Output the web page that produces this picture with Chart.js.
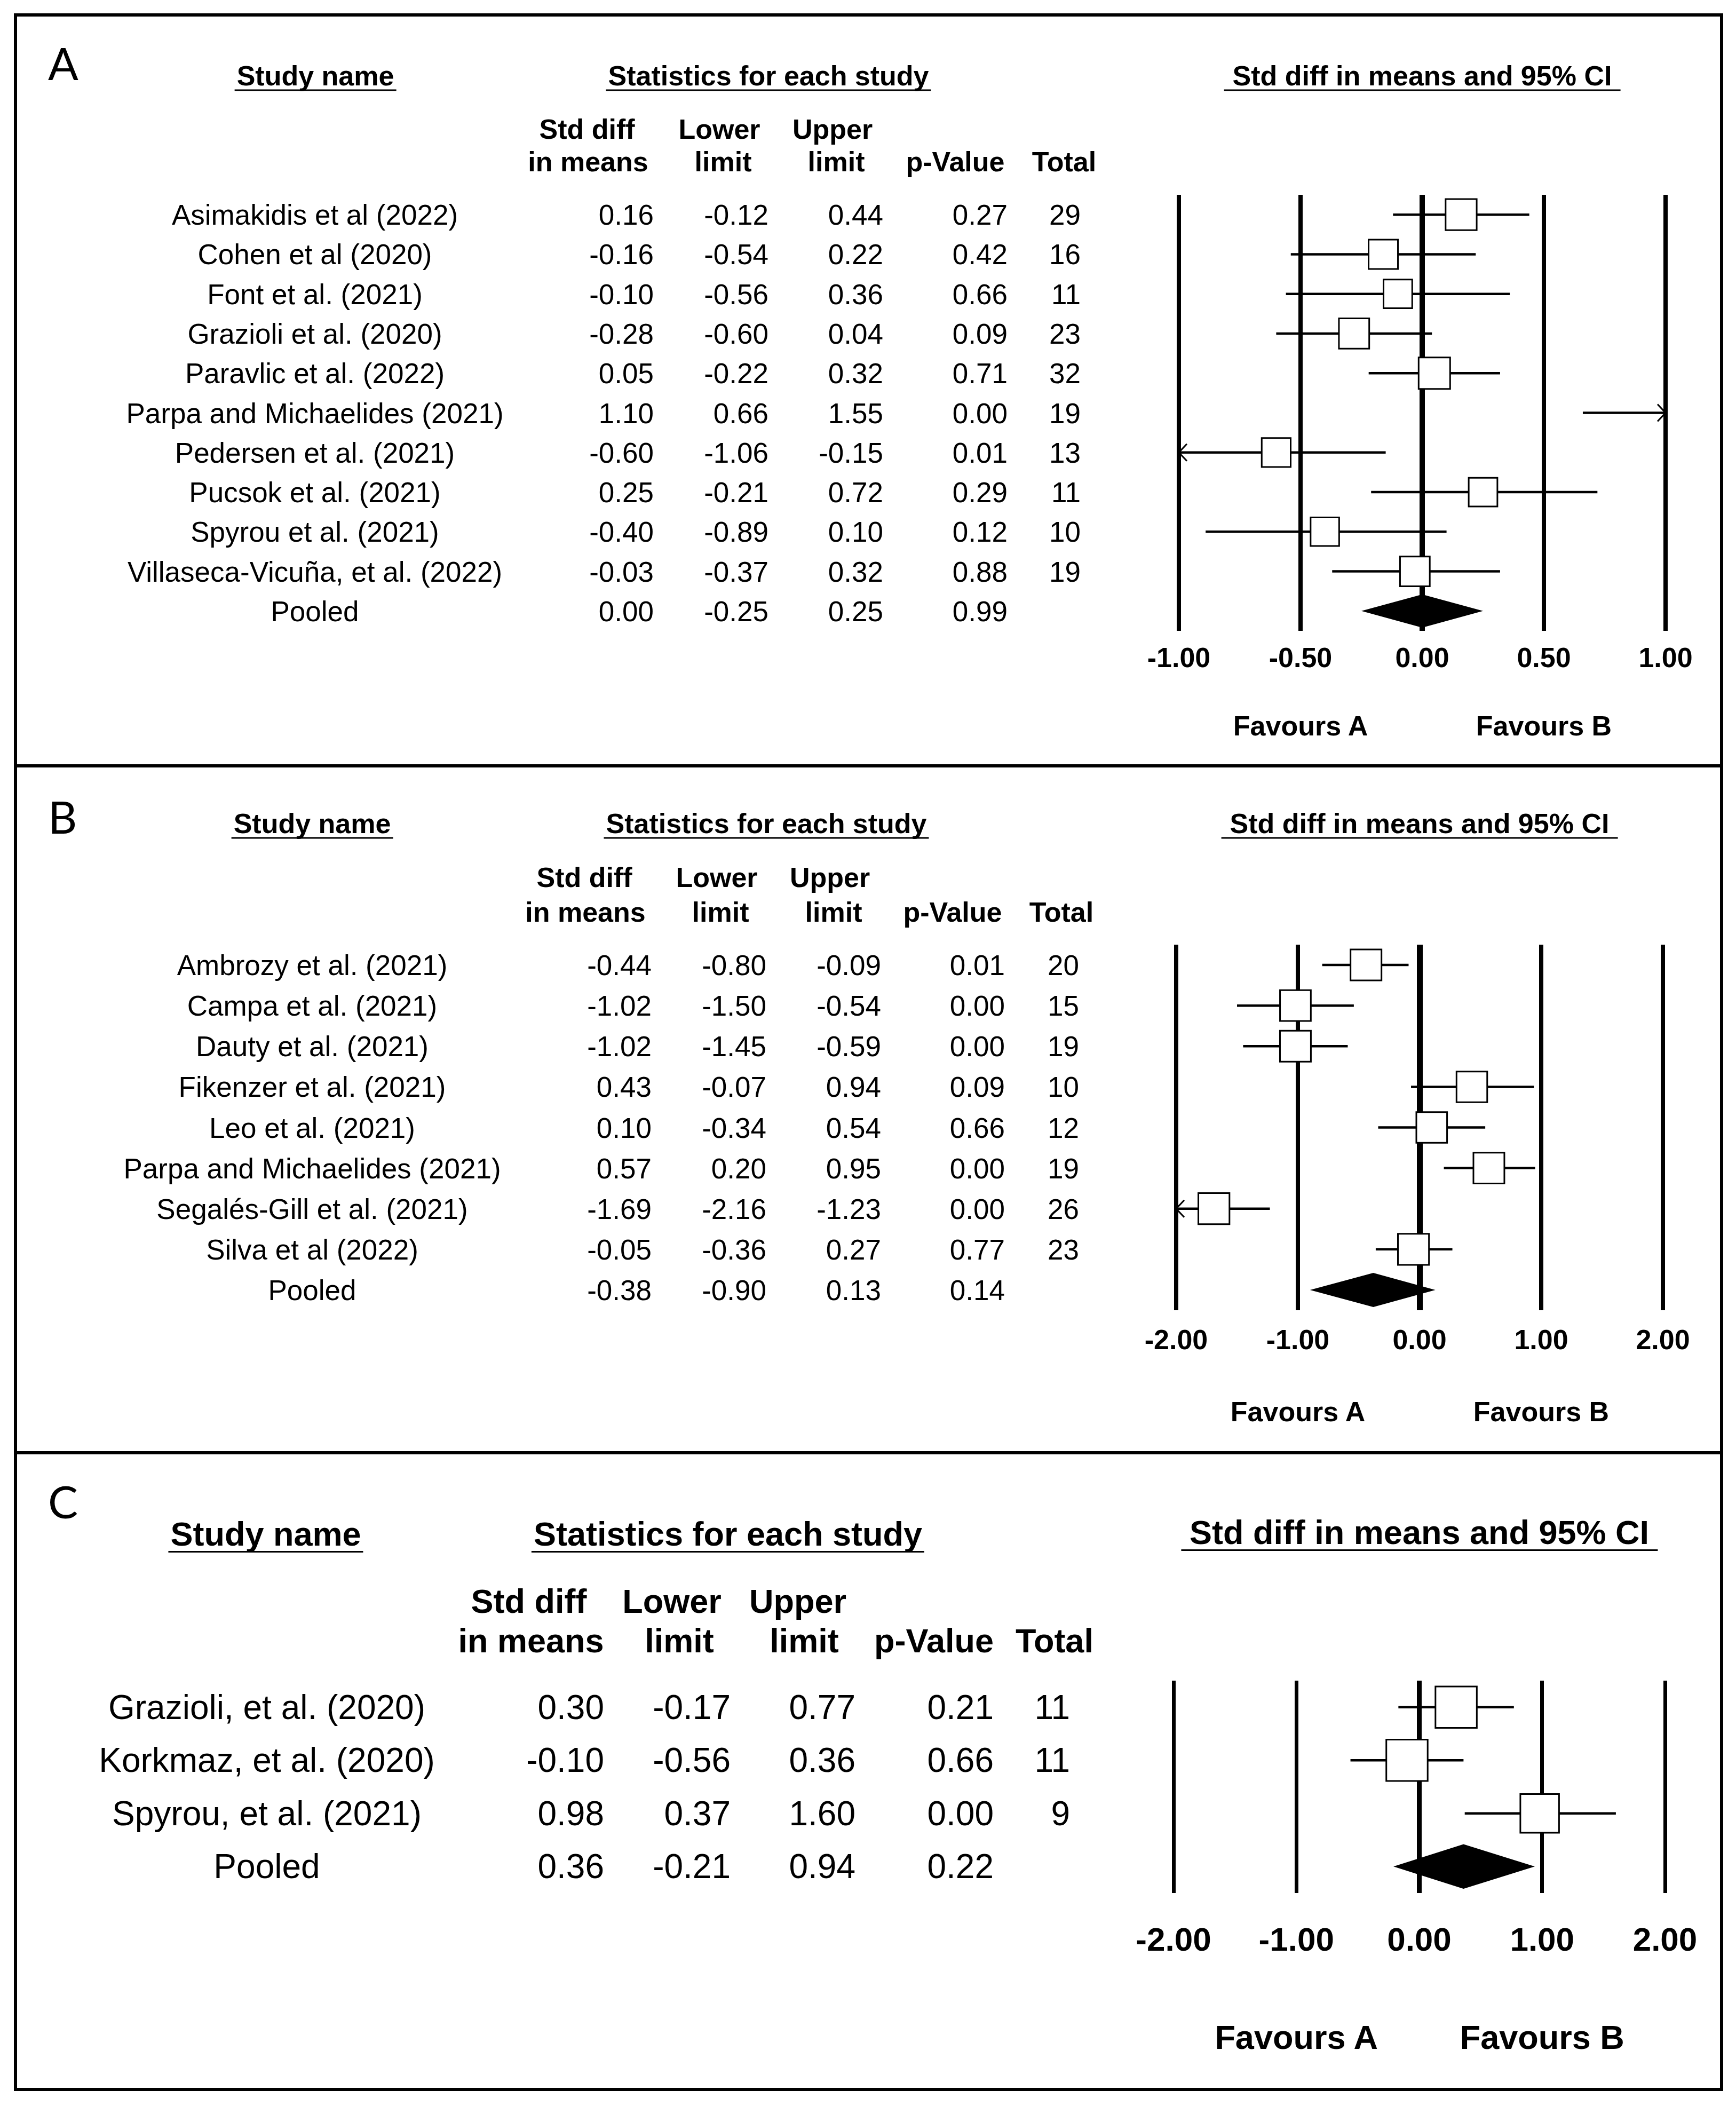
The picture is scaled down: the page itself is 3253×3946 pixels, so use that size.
<!DOCTYPE html>
<html>
<head>
<meta charset="utf-8">
<script src="https://cdn.jsdelivr.net/npm/chart.js@4.4.1/dist/chart.umd.min.js"></script>
<style>
  body { margin: 0; background: #fff; }
  #page { position: relative; width: 3253px; height: 3946px; overflow: hidden; background: #fff;
          font-family: 'Liberation Sans', Arial, sans-serif; color: #000; }
  .panel { position: absolute; left: 26px; width: 3203px; border: 6px solid #000; box-sizing: border-box; }
  .t { position: absolute; white-space: nowrap; line-height: 1; }
  canvas { position: absolute; left: 0; }
</style>
</head>
<body>
<div id="page"></div>
<script>
// ---- panel A ----
const namesA = ['Asimakidis et al (2022)', 'Cohen et al (2020)', 'Font et al. (2021)', 'Grazioli et al. (2020)',
  'Paravlic et al. (2022)', 'Parpa and Michaelides (2021)', 'Pedersen et al. (2021)', 'Pucsok et al. (2021)',
  'Spyrou et al. (2021)', 'Villaseca-Vicuña, et al. (2022)'];
const smdA = [0.16, -0.16, -0.10, -0.28, 0.05, 1.10, -0.60, 0.25, -0.40, -0.03];
const lowerA = [-0.12, -0.54, -0.56, -0.60, -0.22, 0.66, -1.06, -0.21, -0.89, -0.37];
const upperA = [0.44, 0.22, 0.36, 0.04, 0.32, 1.55, -0.15, 0.72, 0.10, 0.32];
const pA = [0.27, 0.42, 0.66, 0.09, 0.71, 0.00, 0.01, 0.29, 0.12, 0.88];
const totalA = [29, 16, 11, 23, 32, 19, 13, 11, 10, 19];
const pooledA = [0.00, -0.25, 0.25, 0.99]; // smd, lower, upper, p
const ticksA = [-1, -0.5, 0, 0.5, 1];

// ---- panel B ----
const namesB = ['Ambrozy et al. (2021)', 'Campa et al. (2021)', 'Dauty et al. (2021)', 'Fikenzer et al. (2021)',
  'Leo et al. (2021)', 'Parpa and Michaelides (2021)', 'Segalés-Gill et al. (2021)', 'Silva et al (2022)'];
const smdB = [-0.44, -1.02, -1.02, 0.43, 0.10, 0.57, -1.69, -0.05];
const lowerB = [-0.80, -1.50, -1.45, -0.07, -0.34, 0.20, -2.16, -0.36];
const upperB = [-0.09, -0.54, -0.59, 0.94, 0.54, 0.95, -1.23, 0.27];
const pB = [0.01, 0.00, 0.00, 0.09, 0.66, 0.00, 0.00, 0.77];
const totalB = [20, 15, 19, 10, 12, 19, 26, 23];
const pooledB = [-0.38, -0.90, 0.13, 0.14];
const ticksB = [-2, -1, 0, 1, 2];

// ---- panel C ----
const namesC = ['Grazioli, et al. (2020)', 'Korkmaz, et al. (2020)', 'Spyrou, et al. (2021)'];
const smdC = [0.30, -0.10, 0.98];
const lowerC = [-0.17, -0.56, 0.37];
const upperC = [0.77, 0.36, 1.60];
const pC = [0.21, 0.66, 0.00];
const totalC = [11, 11, 9];
const pooledC = [0.36, -0.21, 0.94, 0.22];
const ticksC = [-2, -1, 0, 1, 2];

const page = document.getElementById('page');
const FONT = "'Liberation Sans', Arial, sans-serif";

function put(str, x, y, size, bold, align) {
  const d = document.createElement('div');
  d.className = 't';
  d.textContent = str;
  d.style.fontSize = size + 'px';
  if (bold) d.style.fontWeight = 'bold';
  d.style.left = x + 'px';
  d.style.top = y + 'px';
  const tx = align === 'right' ? '-100%' : align === 'left' ? '0' : '-50%';
  d.style.transform = 'translate(' + tx + ',-50%)';
  page.appendChild(d);
  return d;
}

function underlined(str, x, y, size, pad) {
  const d = put(str, x, y, size, true);
  d.style.borderBottom = '3px solid #000';
  d.style.padding = '0 ' + pad + 'px';
}

const panels = [
  { key: 'A', names: namesA, smd: smdA, lower: lowerA, upper: upperA, p: pA, total: totalA, pooled: pooledA, ticks: ticksA,
    top: 25, h: 1413, left: 2209, right: 3121, lineTop: 365, lineBottom: 1182,
    gridW: 8, zeroW: 10, ciW: 4.5, boxBase: 51, boxGain: 0.25, tickSize: 52, tickPad: 22,
    letterY: 118, headY: 143, plotHeadY: 143, col1Y: 242, col2Y: 303, favY: 1360,
    fs: 53, hs: 52, ps: 52, nameX: 590, studyX: 591, statsX: 1440,
    numX: [1225, 1440, 1655, 1888, 2025],
    hdr: [['Std diff', 1100, 1], ['in means', 1102, 2], ['Lower', 1348, 1], ['limit', 1355, 2],
          ['Upper', 1560, 1], ['limit', 1567, 2], ['p-Value', 1790, 2], ['Total', 1994, 2]] },
  { key: 'B', names: namesB, smd: smdB, lower: lowerB, upper: upperB, p: pB, total: totalB, pooled: pooledB, ticks: ticksB,
    top: 1432, h: 1293, left: 2204, right: 3116, lineTop: 1770, lineBottom: 2455,
    gridW: 8, zeroW: 11, ciW: 4.5, boxBase: 57, boxGain: 0.05, tickSize: 52, tickPad: 27,
    letterY: 1530, headY: 1544, plotHeadY: 1544, col1Y: 1644, col2Y: 1709, favY: 2645,
    fs: 53, hs: 52, ps: 52, nameX: 585, studyX: 585, statsX: 1436,
    numX: [1221, 1436, 1651, 1883, 2022],
    hdr: [['Std diff', 1095, 1], ['in means', 1097, 2], ['Lower', 1343, 1], ['limit', 1350, 2],
          ['Upper', 1555, 1], ['limit', 1562, 2], ['p-Value', 1785, 2], ['Total', 1989, 2]] },
  { key: 'C', names: namesC, smd: smdC, lower: lowerC, upper: upperC, p: pC, total: totalC, pooled: pooledC, ticks: ticksC,
    top: 2719, h: 1199, left: 2199, right: 3120, lineTop: 3149, lineBottom: 3547,
    gridW: 7, zeroW: 9, ciW: 4.5, boxBase: 50, boxGain: 2.5, tickSize: 62, tickPad: 54,
    letterY: 2813, headY: 2876, plotHeadY: 2873, col1Y: 3000, col2Y: 3074, favY: 3817,
    fs: 64, hs: 63, ps: 63, nameX: 500, studyX: 498, statsX: 1364,
    numX: [1132, 1369, 1603, 1862, 2005],
    hdr: [['Std diff', 991, 1], ['in means', 995, 2], ['Lower', 1259, 1], ['limit', 1273, 2],
          ['Upper', 1495, 1], ['limit', 1507, 2], ['p-Value', 1750, 2], ['Total', 1976, 2]] }
];

function forest(p) {
  const n = p.names.length; // pooled row sits at index n

  const box = document.createElement('div');
  box.className = 'panel';
  box.style.top = p.top + 'px';
  box.style.height = p.h + 'px';
  page.appendChild(box);

  const canvas = document.createElement('canvas');
  canvas.width = 3253;
  canvas.height = p.h;
  canvas.style.top = p.top + 'px';
  canvas.style.width = '3253px';
  canvas.style.height = p.h + 'px';
  page.appendChild(canvas);

  // diamond for pooled estimate, arrows for clipped intervals
  const marks = {
    id: 'marks' + p.key,
    afterDatasetsDraw(chart) {
      const { ctx, chartArea, scales: { x, y } } = chart;
      ctx.save();
      ctx.strokeStyle = '#000';
      ctx.lineWidth = 3;
      p.lower.forEach((lo, i) => {
        const yc = y.getPixelForValue(i);
        if (lo < x.min) {
          const xt = chartArea.left;
          ctx.beginPath();
          ctx.moveTo(xt + 15, yc - 16); ctx.lineTo(xt, yc); ctx.lineTo(xt + 15, yc + 16);
          ctx.stroke();
        }
        if (p.upper[i] > x.max) {
          const xt = chartArea.right;
          ctx.beginPath();
          ctx.moveTo(xt - 15, yc - 16); ctx.lineTo(xt, yc); ctx.lineTo(xt - 15, yc + 16);
          ctx.stroke();
        }
      });
      const [est, lo, hi] = p.pooled;
      const dh = 0.42;
      const yc = y.getPixelForValue(n);
      ctx.fillStyle = '#000';
      ctx.beginPath();
      ctx.moveTo(x.getPixelForValue(lo), yc);
      ctx.lineTo(x.getPixelForValue(est), y.getPixelForValue(n - dh));
      ctx.lineTo(x.getPixelForValue(hi), yc);
      ctx.lineTo(x.getPixelForValue(est), y.getPixelForValue(n + dh));
      ctx.closePath();
      ctx.fill();
      ctx.restore();
    }
  };

  const ciSets = p.lower.map((lo, i) => ({
    data: [{ x: lo, y: i }, { x: p.upper[i], y: i }],
    showLine: true,
    borderColor: '#000',
    borderWidth: p.ciW,
    pointRadius: 0,
    order: 2
  }));

  const boxSet = {
    data: p.smd.map((v, i) => ({ x: v, y: i })),
    pointStyle: 'rect',
    pointRadius: p.total.map(t => (p.boxBase + p.boxGain * t) / Math.SQRT2),
    backgroundColor: '#fff',
    borderColor: '#000',
    borderWidth: 3,
    order: 1
  };

  const chart = new Chart(canvas, {
    type: 'scatter',
    data: { datasets: [boxSet, ...ciSets] },
    options: {
      responsive: false,
      animation: false,
      devicePixelRatio: 1,
      events: [],
      layout: { padding: { left: p.left, right: 3253 - p.right, top: p.lineTop - p.top, bottom: 0 } },
      plugins: { legend: { display: false }, tooltip: { enabled: false } },
      scales: {
        x: {
          type: 'linear',
          min: p.ticks[0],
          max: p.ticks[p.ticks.length - 1],
          afterBuildTicks: s => { s.ticks = p.ticks.map(v => ({ value: v })); },
          afterFit: s => { s.height = p.h - (p.lineBottom - p.top); },
          border: { display: false },
          grid: {
            color: '#000',
            lineWidth: c => (c.tick && c.tick.value === 0 ? p.zeroW : p.gridW),
            drawTicks: false
          },
          ticks: {
            color: '#000',
            font: { family: FONT, size: p.tickSize, weight: 'bold' },
            padding: p.tickPad,
            maxRotation: 0,
            autoSkip: false,
            callback: v => Number(v).toFixed(2)
          }
        },
        y: { type: 'linear', display: false, reverse: true, min: -0.5, max: n + 0.5 }
      }
    },
    plugins: [marks]
  });

  const xs = chart.scales.x, ys = chart.scales.y;

  // headings
  const letter = put(p.key, 90, p.letterY, 84, false, 'left');
  letter.style.fontFamily = "Lato, 'Open Sans', sans-serif";
  underlined('Study name', p.studyX, p.headY, p.hs, 4);
  underlined('Statistics for each study', p.statsX, p.headY, p.hs, 4);
  underlined('Std diff in means and 95% CI', (xs.left + xs.right) / 2, p.plotHeadY, p.ps, 16);
  p.hdr.forEach(([s, x, line]) => put(s, x, line === 1 ? p.col1Y : p.col2Y, p.hs, true));

  // table rows, aligned with the plot rows
  const rows = p.names.map((nm, i) => [nm, p.smd[i], p.lower[i], p.upper[i], p.p[i], p.total[i]]);
  rows.push(['Pooled', p.pooled[0], p.pooled[1], p.pooled[2], p.pooled[3], '']);
  rows.forEach((r, i) => {
    const yy = p.top + ys.getPixelForValue(i);
    put(r[0], p.nameX, yy, p.fs);
    for (let k = 1; k <= 4; k++) put(r[k].toFixed(2), p.numX[k - 1], yy, p.fs, false, 'right');
    if (r[5] !== '') put(String(r[5]), p.numX[4], yy, p.fs, false, 'right');
  });

  // favours labels under the two halves of the axis
  const xmin = p.ticks[0], xmax = p.ticks[p.ticks.length - 1];
  put('Favours A', xs.getPixelForValue(xmin / 2), p.favY, p.ps, true);
  put('Favours B', xs.getPixelForValue(xmax / 2), p.favY, p.ps, true);
}

panels.forEach(forest);
</script>
</body>
</html>
